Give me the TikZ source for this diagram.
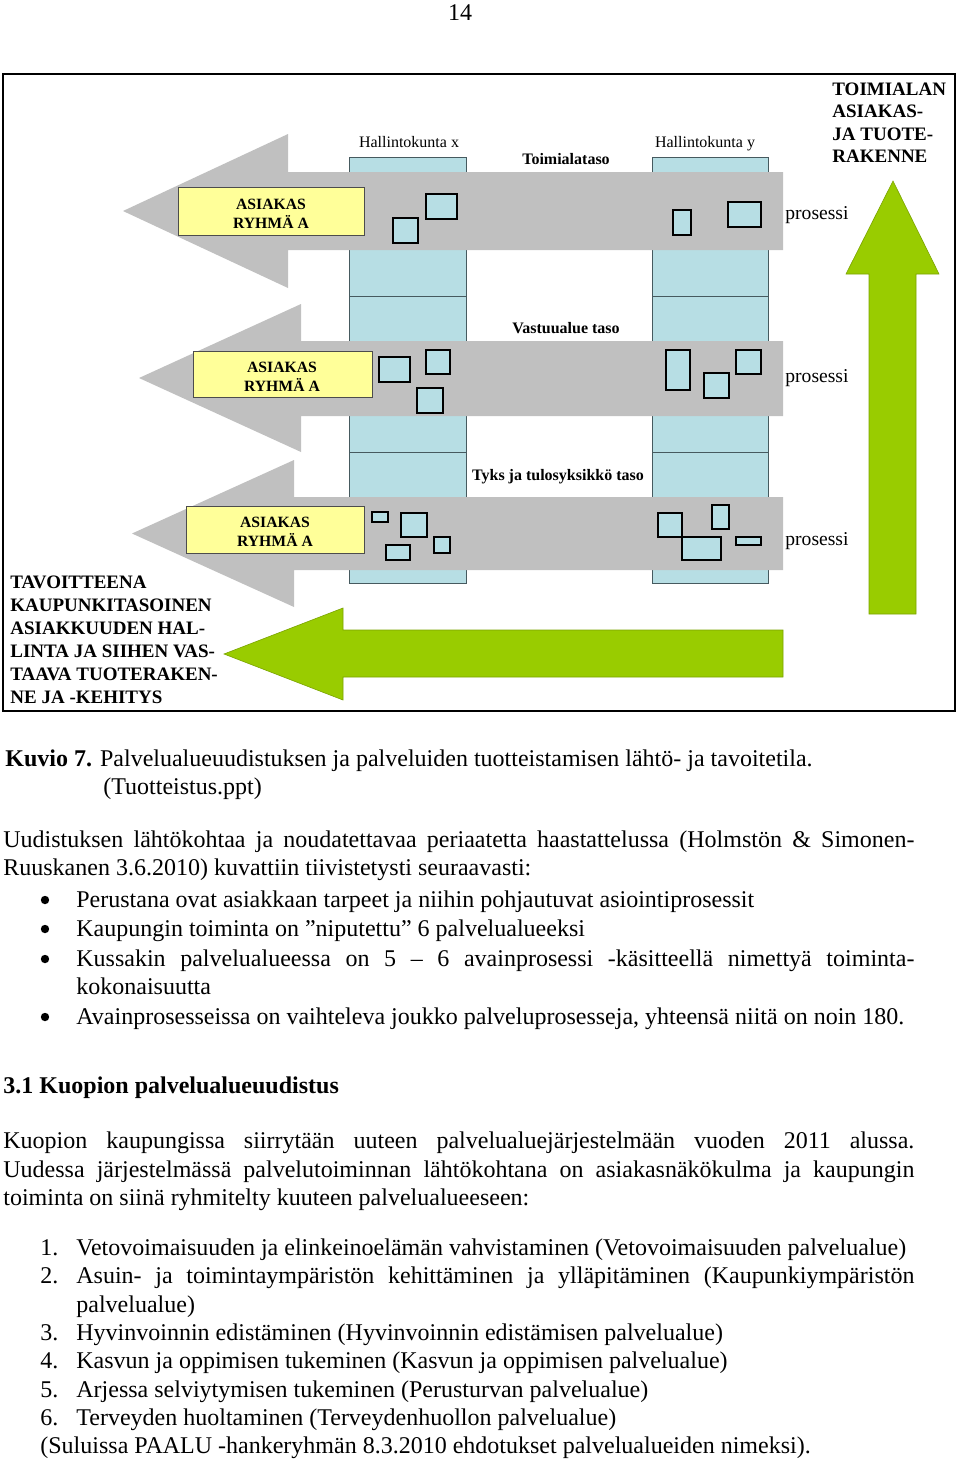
\documentclass[tikz,border=0pt]{standalone}
\usepackage{fontspec}
\setmainfont{Liberation Serif}
\definecolor{arrgray}{RGB}{192,192,192}
\definecolor{colblue}{RGB}{183,222,228}
\definecolor{colline}{RGB}{70,90,95}
\definecolor{boxyellow}{RGB}{255,255,153}
\definecolor{grn}{RGB}{153,204,0}
\begin{document}
\begin{tikzpicture}[x=0.5pt,y=-0.5pt,
  body/.style={font=\fontsize{12}{14}\selectfont, inner sep=0pt, anchor=base west},
  lbl/.style={font=\bfseries\fontsize{8}{9.5}\selectfont, inner sep=0pt, anchor=base},
  hk/.style={font=\fontsize{8}{9.5}\selectfont, inner sep=0pt, anchor=base},
  pros/.style={font=\fontsize{9.8}{11}\selectfont, inner sep=0pt, anchor=base west},
  bigcap/.style={font=\bfseries\fontsize{9.5}{11}\selectfont, inner sep=0pt, anchor=base west},
  goalcap/.style={font=\bfseries\fontsize{9.5}{11}\selectfont, inner sep=0pt, anchor=base west},
  ytext/.style={font=\bfseries\fontsize{7.85}{9.5}\selectfont, inner sep=0pt, anchor=base},
  colbox/.style={draw=colline, line width=0.5pt, fill=colblue},
  ybox/.style={draw=black!70, line width=0.5pt, fill=boxyellow},
  sqbox/.style={draw=black, line width=1.4pt, fill=colblue},
  grayarrow/.style={fill=arrgray},
  greenarrow/.style={fill=grn, draw=grn!80!black, line width=0.3pt}
]
\useasboundingbox (0,0) rectangle (960,1463);

% page number
\node[body, anchor=base] (pnum) at (460,20) {14};

% frame
\draw[line width=1pt] (3,74) rectangle (955,711);

% columns
\foreach \xa/\xb in {349/466, 652/768}{
  \draw[colbox] (\xa,157) rectangle (\xb,296);
  \draw[colbox] (\xa,296) rectangle (\xb,452);
  \draw[colbox] (\xa,452) rectangle (\xb,583);
}

% gray arrows
\fill[grayarrow] (783,172) -- (288,172) -- (288,134) -- (123,211) -- (288,288) -- (288,250) -- (783,250) -- cycle;
\fill[grayarrow] (783,341) -- (301,341) -- (301,304) -- (139,378) -- (301,452) -- (301,416) -- (783,416) -- cycle;
\fill[grayarrow] (783,497) -- (294,497) -- (294,460) -- (132,533.5) -- (294,607) -- (294,570) -- (783,570) -- cycle;

% green arrows
\filldraw[greenarrow] (783,630) -- (343,630) -- (343,608) -- (224,654) -- (343,700) -- (343,677) -- (783,677) -- cycle;
\filldraw[greenarrow] (869,614) -- (869,274) -- (846,274) -- (893,181) -- (939,274) -- (916,274) -- (916,614) -- cycle;

% yellow boxes
\draw[ybox] (178,187) rectangle (364,235);
\draw[ybox] (193,351) rectangle (372,397);
\draw[ybox] (186,506) rectangle (364,553);
\node[ytext] (y1a) at (271,209) {ASIAKAS};
\node[ytext] (y1b) at (271,228) {RYHMÄ A};
\node[ytext] (y2a) at (282,372) {ASIAKAS};
\node[ytext] (y2b) at (282,391) {RYHMÄ A};
\node[ytext] (y3a) at (275,527) {ASIAKAS};
\node[ytext] (y3b) at (275,546) {RYHMÄ A};

% small process squares - level 1
\draw[sqbox] (393,218) rectangle (418,243);
\draw[sqbox] (426,194) rectangle (457,219);
\draw[sqbox] (673,210) rectangle (691,235);
\draw[sqbox] (728,202) rectangle (761,227);
% level 2
\draw[sqbox] (379,357) rectangle (410,382);
\draw[sqbox] (426,350) rectangle (450,374);
\draw[sqbox] (417,388) rectangle (443,413);
\draw[sqbox] (666,350) rectangle (690,390);
\draw[sqbox] (704,373) rectangle (729,398);
\draw[sqbox] (736,350) rectangle (761,374);
% level 3
\draw[sqbox] (372,512) rectangle (388,522);
\draw[sqbox] (401,513) rectangle (427,537);
\draw[sqbox] (386,545) rectangle (410,560);
\draw[sqbox] (434,537) rectangle (450,553);
\draw[sqbox] (658,513) rectangle (682,537);
\draw[sqbox] (682,537) rectangle (721,560);
\draw[sqbox] (712,505) rectangle (729,529);
\draw[sqbox] (736,537) rectangle (761,545);

% labels in figure
\node[hk] (hx) at (409,147) {Hallintokunta x};
\node[hk] (hy) at (705,147) {Hallintokunta y};
\node[lbl] (lv1) at (566,164) {Toimialataso};
\node[lbl] (lv2) at (566,333) {Vastuualue taso};
\node[lbl] (lv3) at (558,480) {Tyks ja tulosyksikkö taso};
\node[pros] (p1) at (785,219) {prosessi};
\node[pros] (p2) at (785,382) {prosessi};
\node[pros] (p3) at (785,545) {prosessi};

\node[bigcap] (tr1) at (832,95) {TOIMIALAN};
\node[bigcap] (tr2) at (832,117.5) {ASIAKAS-};
\node[bigcap] (tr3) at (832,140) {JA TUOTE-};
\node[bigcap] (tr4) at (832,162.5) {RAKENNE};

\node[goalcap] (g1) at (10,588) {TAVOITTEENA};
\node[goalcap] (g2) at (10,611) {KAUPUNKITASOINEN};
\node[goalcap] (g3) at (10,634) {ASIAKKUUDEN HAL-};
\node[goalcap] (g4) at (10,657) {LINTA JA SIIHEN VAS-};
\node[goalcap] (g5) at (10,680) {TAAVA TUOTERAKEN-};
\node[goalcap] (g6) at (10,703) {NE JA -KEHITYS};

% body text
\node[body] (c1) at (5,766) {\textbf{Kuvio 7.} Palvelualueuudistuksen ja palveluiden tuotteistamisen lähtö- ja tavoitetila.};
\node[body] (c2) at (103,794) {(Tuotteistus.ppt)};

\node[body] (a1) at (3,847) {\makebox[455.5pt][s]{Uudistuksen lähtökohtaa ja noudatettavaa periaatetta haastattelussa (Holmstön \& Simonen-}};
\node[body] (a2) at (3,875) {Ruuskanen 3.6.2010) kuvattiin tiivistetysti seuraavasti:};

\foreach \yb in {907,936,966,1024}{ \fill (45,\yb-7) circle (4.2); }
\node[body] (b1) at (76,907) {Perustana ovat asiakkaan tarpeet ja niihin pohjautuvat asiointiprosessit};
\node[body] (b2) at (76,936) {Kaupungin toiminta on ”niputettu” 6 palvelualueeksi};
\node[body] (b3) at (76,966) {\makebox[419pt][s]{Kussakin palvelualueessa on 5 – 6 avainprosessi -käsitteellä nimettyä toiminta-}};
\node[body] (b3b) at (76,994) {kokonaisuutta};
\node[body] (b4) at (76,1024) {Avainprosesseissa on vaihteleva joukko palveluprosesseja, yhteensä niitä on noin 180.};

\node[body] (h31) at (3,1093) {\textbf{3.1 Kuopion palvelualueuudistus}};

\node[body] (k1) at (3,1148) {\makebox[455.5pt][s]{Kuopion kaupungissa siirrytään uuteen palvelualuejärjestelmään vuoden 2011 alussa.}};
\node[body] (k2) at (3,1177) {\makebox[455.5pt][s]{Uudessa järjestelmässä palvelutoiminnan lähtökohtana on asiakasnäkökulma ja kaupungin}};
\node[body] (k3) at (3,1205) {toiminta on siinä ryhmitelty kuuteen palvelualueeseen:};

\node[body] (n1) at (40,1255) {1.};
\node[body] (l1) at (76,1255) {Vetovoimaisuuden ja elinkeinoelämän vahvistaminen (Vetovoimaisuuden palvelualue)};
\node[body] (n2) at (40,1283) {2.};
\node[body] (l2) at (76,1283) {\makebox[419pt][s]{Asuin- ja toimintaympäristön kehittäminen ja ylläpitäminen (Kaupunkiympäristön}};
\node[body] (l2b) at (76,1312) {palvelualue)};
\node[body] (n3) at (40,1340) {3.};
\node[body] (l3) at (76,1340) {Hyvinvoinnin edistäminen (Hyvinvoinnin edistämisen palvelualue)};
\node[body] (n4) at (40,1368) {4.};
\node[body] (l4) at (76,1368) {Kasvun ja oppimisen tukeminen (Kasvun ja oppimisen palvelualue)};
\node[body] (n5) at (40,1397) {5.};
\node[body] (l5) at (76,1397) {Arjessa selviytymisen tukeminen (Perusturvan palvelualue)};
\node[body] (n6) at (40,1425) {6.};
\node[body] (l6) at (76,1425) {Terveyden huoltaminen (Terveydenhuollon palvelualue)};
\node[body] (sul) at (40,1453) {(Suluissa PAALU -hankeryhmän 8.3.2010 ehdotukset palvelualueiden nimeksi).};
\end{tikzpicture}
\end{document}
